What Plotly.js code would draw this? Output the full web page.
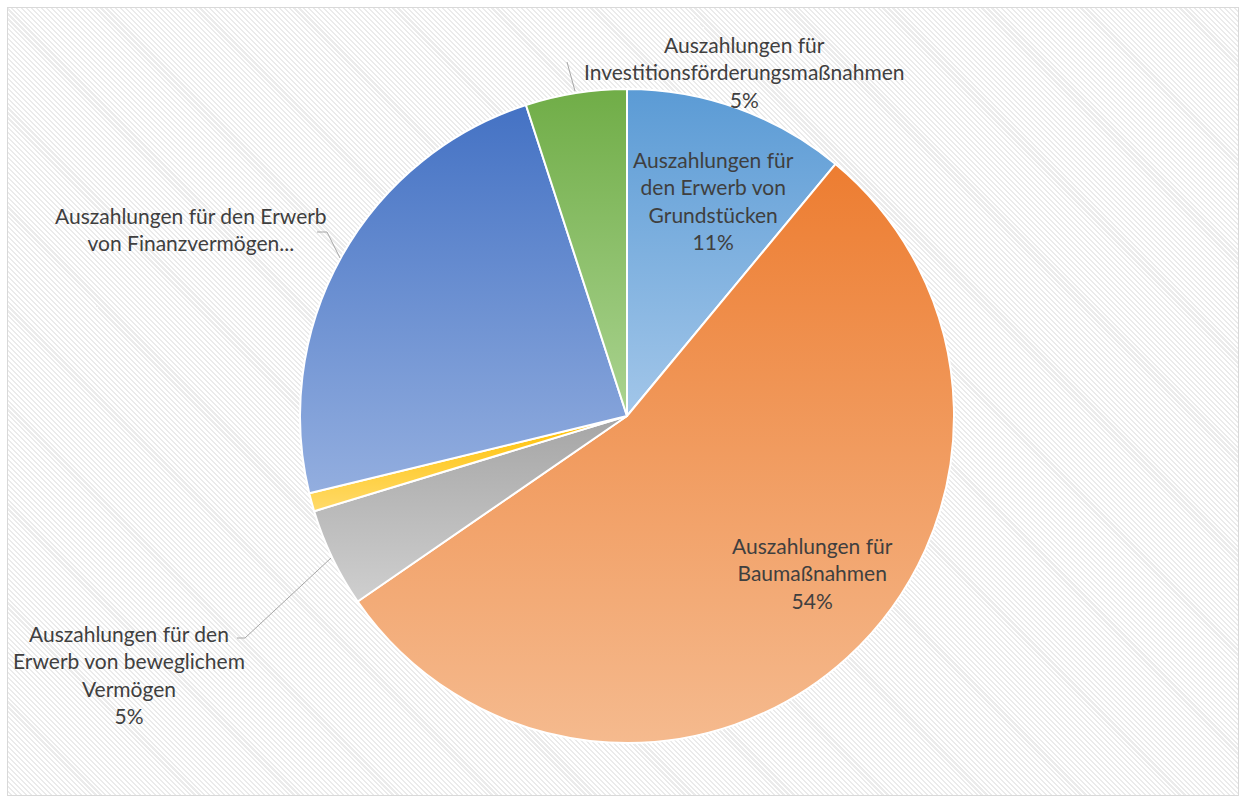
<!DOCTYPE html>
<html>
<head>
<meta charset="utf-8">
<script src="https://cdn.plot.ly/plotly-3.0.1.min.js"></script>
<style>
  html, body { margin:0; padding:0; background:#ffffff; }
  #wrap { position:relative; width:1244px; height:800px; background:#ffffff; }
  #bg { position:absolute; left:7px; top:7px; width:1230px; height:787px;
        border:1px solid #d9d9d9;
        background: repeating-linear-gradient(45deg, #ffffff 0px, #ffffff 2px, #ebebeb 2px, #ebebeb 3.5px); }
  #chart { position:absolute; left:0; top:0; width:1244px; height:800px; }
</style>
</head>
<body>
<div id="wrap"><div id="bg"></div><div id="chart"></div></div>
<script>
// ---- data ----
const categories = [
  "Auszahlungen für den Erwerb von Grundstücken",
  "Auszahlungen für Baumaßnahmen",
  "Auszahlungen für den Erwerb von beweglichem Vermögen",
  "Sonstige Investitionsauszahlungen",
  "Auszahlungen für den Erwerb von Finanzvermögen",
  "Auszahlungen für Investitionsförderungsmaßnahmen"
];
const shares = [11.0, 54.4, 4.9, 0.9, 23.8, 5.0];
const displayLabels = [
  "Auszahlungen für<br>den Erwerb von<br>Grundstücken",
  "Auszahlungen für<br>Baumaßnahmen",
  "Auszahlungen für den<br>Erwerb von beweglichem<br>Vermögen",
  "",
  "Auszahlungen für den Erwerb<br>von Finanzvermögen...",
  "Auszahlungen für<br>Investitionsförderungsmaßnahmen"
];
const showPercent = [true, true, true, false, false, true];
const gradTop    = ["#5B9BD5", "#ED7D31", "#A5A5A5", "#FFC000", "#4472C4", "#70AD47"];
const gradBottom = ["#A2C6E9", "#F5BA8E", "#CFCFCF", "#FFDA6A", "#93AEDF", "#AAD390"];

// ---- layout helpers (pixel -> paper) ----
const W = 1244, H = 800;
const px = x => x / W;
const py = y => 1 - y / H;

const total = shares.reduce((a, b) => a + b, 0);
const labelPos = [[713, 200], [812, 573], [129, 674], null, [191, 229], [744, 72]];
const annotations = [];
categories.forEach((c, i) => {
  if (!labelPos[i] || !displayLabels[i]) return;
  let t = displayLabels[i];
  if (showPercent[i]) t += "<br>" + Math.round(shares[i] / total * 100) + "%";
  annotations.push({
    xref: "paper", yref: "paper",
    x: px(labelPos[i][0]), y: py(labelPos[i][1]),
    xanchor: "center", yanchor: "middle",
    text: t, showarrow: false, align: "center",
    font: { family: "Lato, 'Open Sans', sans-serif", size: 21, color: "#3f3f3f" }
  });
});

function pathPx(pts) {
  return pts.map((p, k) => (k ? "L" : "M") + px(p[0]) + "," + py(p[1])).join(" ");
}
const leaderLines = [
  [[567, 62], [575, 91]],
  [[317, 232], [327, 232], [340, 258]],
  [[237, 638], [245, 638], [331, 558]]
];
const shapes = leaderLines.map(pts => ({
  type: "path", xref: "paper", yref: "paper", path: pathPx(pts),
  line: { color: "#a6a6a6", width: 1 }
}));

const trace = {
  type: "pie",
  labels: categories,
  values: shares,
  sort: false,
  direction: "clockwise",
  rotation: 0,
  textinfo: "none",
  hoverinfo: "label+percent",
  marker: { colors: gradTop, line: { color: "#ffffff", width: 2 } },
  domain: { x: [300 / W, 954 / W], y: [57 / H, 711 / H] },
  showlegend: false
};

const layout = {
  width: W, height: H,
  margin: { l: 0, r: 0, t: 0, b: 0 },
  paper_bgcolor: "rgba(0,0,0,0)",
  plot_bgcolor: "rgba(0,0,0,0)",
  showlegend: false,
  annotations: annotations,
  shapes: shapes
};

Plotly.newPlot("chart", [trace], layout, { displayModeBar: false, staticPlot: true }).then(gd => {
  const svg = gd.querySelector("svg.main-svg");
  const ns = "http://www.w3.org/2000/svg";
  let defs = svg.querySelector("defs");
  if (!defs) { defs = document.createElementNS(ns, "defs"); svg.insertBefore(defs, svg.firstChild); }
  gradTop.forEach((c, i) => {
    const g = document.createElementNS(ns, "linearGradient");
    g.setAttribute("id", "sliceGrad" + i);
    g.setAttribute("x1", "0"); g.setAttribute("y1", "0");
    g.setAttribute("x2", "0"); g.setAttribute("y2", "1");
    const s1 = document.createElementNS(ns, "stop");
    s1.setAttribute("offset", "0"); s1.setAttribute("stop-color", c);
    const s2 = document.createElementNS(ns, "stop");
    s2.setAttribute("offset", "1"); s2.setAttribute("stop-color", gradBottom[i]);
    g.appendChild(s1); g.appendChild(s2); defs.appendChild(g);
  });
  gd.querySelectorAll("g.slice").forEach((s, i) => {
    const p = s.querySelector("path.surface");
    if (p) p.style.fill = "url(#sliceGrad" + i + ")";
  });
});
</script>
</body>
</html>
